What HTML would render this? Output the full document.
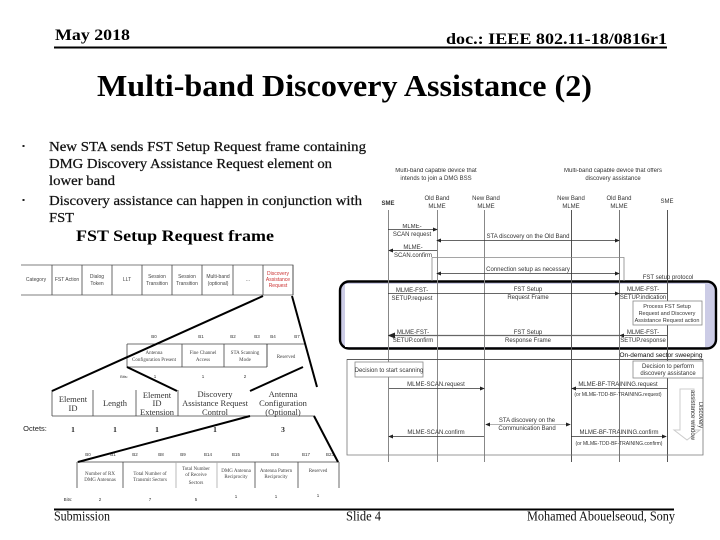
<!DOCTYPE html>
<html><head><meta charset="utf-8"><style>
html,body{margin:0;padding:0;background:#fff}
svg{display:block}
.s{font-family:"Liberation Serif",serif}
.a{font-family:"Liberation Sans",sans-serif}
</style></head><body>
<svg width="720" height="540" viewBox="0 0 720 540" xmlns="http://www.w3.org/2000/svg">
<defs>
<marker id="ar" markerWidth="6" markerHeight="5" refX="5" refY="2.5" orient="auto-start-reverse"><path d="M0 0L6 2.5L0 5Z" fill="#222"/></marker>
<filter id="b" x="0" y="0" width="100%" height="100%"><feGaussianBlur stdDeviation="0.3"/></filter>
</defs>
<!-- header -->
<g class="s" font-weight="bold" fill="#000">
<text x="55" y="40" font-size="16" textLength="75" lengthAdjust="spacingAndGlyphs">May 2018</text>
<text x="446" y="44" font-size="16" textLength="221" lengthAdjust="spacingAndGlyphs">doc.: IEEE 802.11-18/0816r1</text>
<text x="97" y="96" font-size="31" textLength="495" lengthAdjust="spacingAndGlyphs">Multi-band Discovery Assistance (2)</text>
<text x="76" y="241" font-size="16" textLength="198" lengthAdjust="spacingAndGlyphs">FST Setup Request frame</text>
</g>
<rect x="54" y="46.500" width="613" height="2" fill="#000"/>
<!-- body -->
<g class="s" font-size="14" fill="#111" stroke="#111" stroke-width=".25">
<text x="49" y="151" textLength="317" lengthAdjust="spacingAndGlyphs">New STA sends FST Setup Request frame containing</text>
<text x="49" y="168" textLength="283" lengthAdjust="spacingAndGlyphs">DMG Discovery Assistance Request element on</text>
<text x="49" y="185" textLength="66" lengthAdjust="spacingAndGlyphs">lower band</text>
<text x="49" y="205" textLength="313" lengthAdjust="spacingAndGlyphs">Discovery assistance can happen in conjunction with</text>
<text x="49" y="222" textLength="25" lengthAdjust="spacingAndGlyphs">FST</text>
</g>
<rect x="22.500" y="145" width="2" height="2" fill="#222"/>
<rect x="22.500" y="199" width="2" height="2" fill="#222"/>

<!-- top frame table -->
<g stroke="#555" stroke-width=".8" fill="none">
<path d="M21 265H293V295H21"/>
<path d="M52 265V295M82 265V295M112 265V295M142 265V295M172 265V295M202 265V295M233 265V295M263 265V295M293 265V295" stroke="#444"/>
</g>
<g filter="url(#b)">
<g class="a" font-size="5" fill="#444" text-anchor="middle">
<text x="36" y="281">Category</text>
<text x="67" y="281">FST Action</text>
<text x="97" y="278">Dialog</text><text x="97" y="285">Token</text>
<text x="127" y="281">LLT</text>
<text x="157" y="278">Session</text><text x="157" y="285">Transition</text>
<text x="187" y="278">Session</text><text x="187" y="285">Transition</text>
<text x="218" y="278">Multi-band</text><text x="218" y="285">(optional)</text>
<text x="248" y="281">...</text>
<g fill="#c33"><text x="278" y="275">Discovery</text><text x="278" y="281">Assistance</text><text x="278" y="287">Request</text></g>
</g>

<!-- second table text -->
<g class="a" font-size="4.500" fill="#333" text-anchor="middle">
<text x="154" y="338">B0</text><text x="201" y="338">B1</text><text x="233" y="338">B2</text><text x="257" y="338">B3</text><text x="273" y="338">B4</text><text x="297" y="338">B7</text>
<text x="124" y="378" font-size="4">Bits:</text><text x="155" y="378">1</text><text x="203" y="378">1</text><text x="245" y="378">2</text>
</g>
<g class="s" font-size="5" fill="#444" text-anchor="middle">
<text x="154" y="354">Antenna</text><text x="154" y="361">Configuration Present</text>
<text x="203" y="354">Fine Channel</text><text x="203" y="361">Access</text>
<text x="245" y="354">STA Scanning</text><text x="245" y="361">Mode</text>
<text x="286" y="358">Reserved</text>
</g>

<!-- third table text -->
<g class="s" font-size="8.500" fill="#333" text-anchor="middle">
<text x="73" y="402">Element</text><text x="73" y="411">ID</text>
<text x="115" y="406">Length</text>
<text x="157" y="398">Element</text><text x="157" y="406">ID</text><text x="157" y="415">Extension</text>
<text x="215" y="397">Discovery</text><text x="215" y="406">Assistance Request</text><text x="215" y="415">Control</text>
<text x="283" y="397">Antenna</text><text x="283" y="406">Configuration</text><text x="283" y="415">(Optional)</text>
</g>
<g fill="#222" font-size="7.500" text-anchor="middle">
<text class="a" x="35" y="431">Octets:</text>
<g class="s" font-weight="bold"><text x="73" y="432">1</text><text x="115" y="432">1</text><text x="157" y="432">1</text><text x="215" y="432">1</text><text x="283" y="432">3</text></g>
</g>

<!-- fourth table text -->
<g class="a" font-size="4.500" fill="#333" text-anchor="middle">
<text x="88" y="456">B0</text><text x="113" y="456">B1</text><text x="135" y="456">B2</text><text x="161" y="456">B8</text><text x="183" y="456">B9</text><text x="208" y="456">B14</text><text x="236" y="456">B15</text><text x="275" y="456">B16</text><text x="306" y="456">B17</text><text x="330" y="456">B23</text>
</g>
<g class="s" font-size="5" fill="#444" text-anchor="middle">
<text x="100" y="475">Number of RX</text><text x="100" y="481">DMG Antennas</text>
<text x="150" y="475">Total Number of</text><text x="150" y="481">Transmit Sectors</text>
<text x="196" y="470">Total Number</text><text x="196" y="476">of Receive</text><text x="196" y="484">Sectors</text>
<text x="236" y="472">DMG Antenna</text><text x="236" y="478">Reciprocity</text>
<text x="276" y="472">Antenna Pattern</text><text x="276" y="478">Reciprocity</text>
<text x="318" y="472">Reserved</text>
</g>
<g class="a" font-size="4.500" fill="#333" text-anchor="middle">
<text x="68" y="501">Bits:</text><text x="100" y="501">2</text><text x="150" y="501">7</text><text x="196" y="501">5</text><text x="236" y="498">1</text><text x="276" y="498">1</text><text x="318" y="497">1</text>
</g>
</g>

<g stroke="#444" stroke-width=".8" fill="none">
<path d="M127 344H305M127 344V367H267M182 344V367M224 344V367"/><path d="M267 344V367" stroke="#222"/>
<path d="M52 416H315M52 390V416M93 390V416M136 390V416M178 390V416"/>
<path d="M77 462H339M77 462V488M123 462V488M255 462V488M298 462V488M339 462V488"/>
<path d="M176 462V488M217 462V488" stroke="#aaa"/>
</g>

<!-- thick zoom lines -->
<g stroke="#000" stroke-width="2" fill="none">
<path d="M263 296L52 391"/>
<path d="M292 296L317 387"/>
<path d="M127 367L177 391"/>
<path d="M303 367L250 391"/>
<path d="M250 416L78 462"/>
<path d="M314 416L338 462"/>
</g>

<!-- rounded highlight -->
<rect x="340" y="281.500" width="376" height="67" rx="9" fill="#ccccE6" stroke="#000" stroke-width="2.400"/>
<rect x="345" y="284" width="360" height="63" fill="#fff"/>

<g filter="url(#b)">
<!-- sequence headers -->
<g class="a" font-size="6" fill="#333" text-anchor="middle">
<text x="436" y="172">Multi-band capable device that</text><text x="436" y="180">intends to join a DMG BSS</text>
<text x="613" y="172">Multi-band capable device that offers</text><text x="613" y="180">discovery assistance</text>
<text x="388" y="205" font-weight="bold">SME</text>
<text x="437" y="200">Old Band</text><text x="437" y="208">MLME</text>
<text x="486" y="200">New Band</text><text x="486" y="208">MLME</text>
<text x="571" y="200">New Band</text><text x="571" y="208">MLME</text>
<text x="619" y="200">Old Band</text><text x="619" y="208">MLME</text>
<text x="667" y="203">SME</text>
</g>
</g>
<!-- lifelines -->
<g stroke-width="1" fill="none">
<path d="M388.500 210V462M437.500 210V462M484.500 210V462" stroke="#888"/>
<path d="M571.500 210V462" stroke="#555"/>
<path d="M619.500 210V462" stroke="#777"/>
<path d="M667.500 210V462" stroke="#555"/>
</g>
<!-- groups -->
<g stroke="#888" stroke-width=".8" fill="none">
<path d="M432 257.500H624V281M432 257.500V281"/>
<path d="M347 359.500H703V455H347Z" stroke="#777"/>
<path d="M347 359.500H703" stroke="#444"/>
</g>
<g stroke="#333" stroke-width=".8" fill="none">
<path d="M388 229.500H437" marker-end="url(#ar)"/>
<path d="M437 240.500H619" marker-start="url(#ar)" marker-end="url(#ar)"/>
<path d="M437 250.500H389" marker-end="url(#ar)"/>
<path d="M437 273.500H619" marker-start="url(#ar)" marker-end="url(#ar)"/>
<path d="M388 293.500H619" marker-end="url(#ar)"/>
<path d="M389 335.500H619" marker-start="url(#ar)" stroke="#666" stroke-width="1.200"/>
<path d="M619 293.500H667"/><path d="M667 335.500H620" marker-end="url(#ar)"/>
<path d="M389 388.500H484" marker-end="url(#ar)"/>
<path d="M667 388.500H572" marker-end="url(#ar)"/>
<path d="M486 424.500H570" marker-start="url(#ar)" marker-end="url(#ar)" stroke="#999"/>
<path d="M484 436.500H389" marker-end="url(#ar)"/>
<path d="M571 436.500H666" marker-end="url(#ar)"/>
</g>
<!-- boxes -->
<g fill="#fff" stroke="#888" stroke-width=".8">
<rect x="633" y="301" width="69" height="24"/>
<rect x="355" y="362" width="68" height="15"/>
<rect x="633" y="361" width="70" height="17"/>
</g>
<path d="M680 389H694V430L700 430L687 440L674 430L680 430Z" fill="none" stroke="#ccc"/>
<!-- labels -->
<g filter="url(#b)">
<g class="a" font-size="6" fill="#333" text-anchor="middle">
<text x="412" y="228">MLME-</text><text x="412" y="236">SCAN request</text>
<text x="528" y="238">STA discovery on the Old Band</text>
<text x="413" y="249">MLME-</text><text x="413" y="257">SCAN.confirm</text>
<text x="528" y="271">Connection setup as necessary</text>
<text x="668" y="279">FST setup protocol</text>
<text x="412" y="292">MLME-FST-</text><text x="412" y="300">SETUP.request</text>
<text x="528" y="291">FST Setup</text><text x="528" y="299">Request Frame</text>
<text x="643" y="291">MLME-FST-</text><text x="643" y="299">SETUP.indication</text>
<g font-size="5.500"><text x="667" y="308">Process FST Setup</text><text x="667" y="315">Request and Discovery</text><text x="667" y="322">Assistance Request action</text></g>
<text x="413" y="334">MLME-FST-</text><text x="413" y="342">SETUP.confirm</text>
<text x="528" y="334">FST Setup</text><text x="528" y="342">Response Frame</text>
<text x="643" y="334">MLME-FST-</text><text x="643" y="342">SETUP.response</text>
<text x="661" y="357" font-size="6.500" fill="#111">On-demand sector sweeping</text>
<text x="389" y="372">Decision to start scanning</text>
<text x="668" y="368">Decision to perform</text><text x="668" y="375">discovery assistance</text>
<text x="436" y="386">MLME-SCAN.request</text>
<text x="618" y="386">MLME-BF-TRAINING.request</text>
<text x="618" y="396" font-size="5">(or MLME-TDD-BF-TRAINING.request)</text>
<text x="527" y="422">STA discovery on the</text><text x="527" y="430">Communication Band</text>
<text x="436" y="434">MLME-SCAN.confirm</text>
<text x="619" y="434">MLME-BF-TRAINING.confirm</text>
<text x="619" y="445" font-size="5">(or MLME-TDD-BF-TRAINING.confirm)</text>
<text transform="translate(699 415) rotate(90)">Discovery</text>
<text transform="translate(691 415) rotate(90)">assistance window</text>
</g>
</g>

<!-- footer -->
<rect x="54" y="508.500" width="620" height="2" fill="#000"/>
<g class="s" font-size="14" fill="#111">
<text x="54" y="520.500" textLength="56" lengthAdjust="spacingAndGlyphs">Submission</text>
<text x="346" y="520.500" textLength="35" lengthAdjust="spacingAndGlyphs">Slide 4</text>
<text x="527" y="520.500" textLength="148" lengthAdjust="spacingAndGlyphs">Mohamed Abouelseoud, Sony</text>
</g>
</svg>
</body></html>
